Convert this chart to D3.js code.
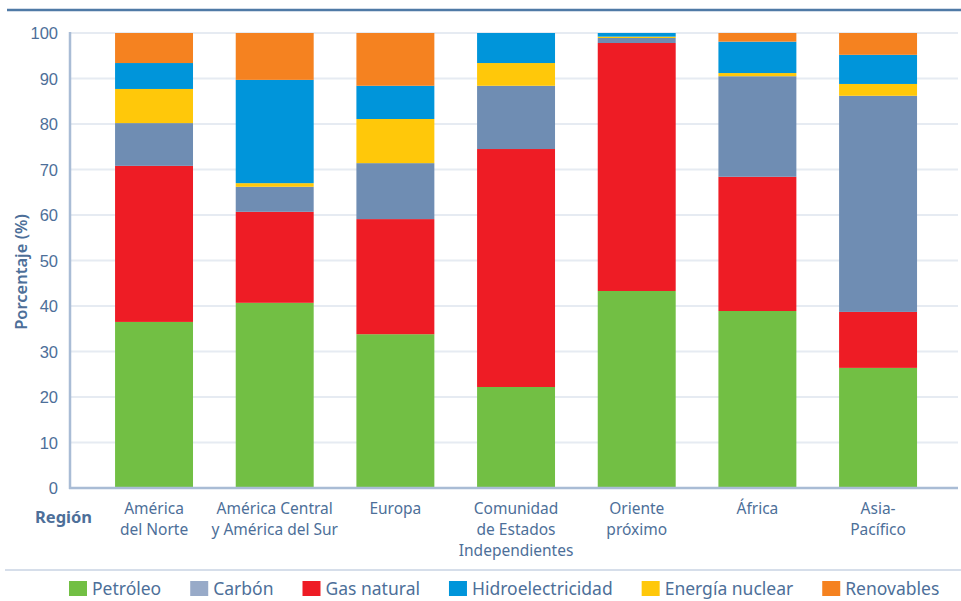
<!DOCTYPE html>
<html lang="es">
<head>
<meta charset="utf-8">
<title>Consumo de energía por región</title>
<script src="https://d3js.org/d3.v7.min.js"></script>
<style>
  body { margin: 0; background: #fff; }
  svg { display: block; font-family: "Noto Sans", "Open Sans", sans-serif; }
  .tick text { fill: #4d6f99; }
</style>
</head>
<body>
<svg id="chart" width="961" height="601"></svg>
<script>
// regiones (eje x), cada una en líneas
var regions = [
  ["América", "del Norte"],
  ["América Central", "y América del Sur"],
  ["Europa"],
  ["Comunidad", "de Estados", "Independientes"],
  ["Oriente", "próximo"],
  ["África"],
  ["Asia-", "Pacífico"]
];
var regionKeys = ["AN", "ACS", "EU", "CEI", "OP", "AF", "AP"];

// fuentes en orden de apilado (de abajo arriba)
var sources = ["Petróleo", "Gas natural", "Carbón", "Energía nuclear", "Hidroelectricidad", "Renovables"];
// orden de la leyenda
var legendOrder = ["Petróleo", "Carbón", "Gas natural", "Hidroelectricidad", "Energía nuclear", "Renovables"];

// porcentajes, por región
var petroleo   = [36.5, 40.7, 33.8, 22.2, 43.3, 38.9, 26.4];
var gasNatural = [34.3, 20.0, 25.3, 52.3, 54.5, 29.5, 12.3];
var carbon     = [ 9.4,  5.5, 12.3, 13.9,  1.1, 22.1, 47.5];
var nuclear    = [ 7.5,  0.8,  9.7,  5.0,  0.3,  0.7,  2.6];
var hidro      = [ 5.7, 22.7,  7.3,  6.6,  0.8,  6.9,  6.4];
var renovables = [ 6.6, 10.3, 11.6,  0.0,  0.0,  1.9,  4.8];

var yTicks = [0, 10, 20, 30, 40, 50, 60, 70, 80, 90, 100];

var colors = {
  "Petróleo": "#72bf44",
  "Gas natural": "#ee1c25",
  "Carbón": "#6f8db3",
  "Energía nuclear": "#ffc80a",
  "Hidroelectricidad": "#0095da",
  "Renovables": "#f58220"
};
var legendColors = Object.assign({}, colors, {"Carbón": "#98aac8"});

var series = {
  "Petróleo": petroleo, "Gas natural": gasNatural, "Carbón": carbon,
  "Energía nuclear": nuclear, "Hidroelectricidad": hidro, "Renovables": renovables
};

var table = regionKeys.map(function(k, i) {
  var row = {key: k, i: i};
  sources.forEach(function(s) { row[s] = series[s][i]; });
  return row;
});

var svg = d3.select("#chart");
var textColor = "#4d6f99";

// scales
var x = d3.scaleBand().domain(regionKeys).range([93.7, 938.4])
    .paddingInner(0.354).paddingOuter(0.177);
var y = d3.scaleLinear().domain([0, 100]).range([488, 33]);

// top rule and bottom rule
svg.append("line").attr("x1", 7).attr("x2", 961).attr("y1", 10).attr("y2", 10)
    .attr("stroke", "#4f7aa6").attr("stroke-width", 2.5);
svg.append("line").attr("x1", 5).attr("x2", 961).attr("y1", 570).attr("y2", 570)
    .attr("stroke", "#d6deea").attr("stroke-width", 2);

// gridlines
svg.append("g").selectAll("line").data(yTicks.slice(1)).enter().append("line")
    .attr("x1", 70).attr("x2", 958)
    .attr("y1", function(d) { return y(d); }).attr("y2", function(d) { return y(d); })
    .attr("stroke", "#e6ebf2").attr("stroke-width", 2);

// stacked bars
var stack = d3.stack().keys(sources);
var layers = stack(table);

svg.append("g").selectAll("g").data(layers).enter().append("g")
    .attr("fill", function(d) { return colors[d.key]; })
  .selectAll("rect").data(function(d) { return d; }).enter().append("rect")
    .attr("x", function(d) { return x(d.data.key); })
    .attr("width", x.bandwidth())
    .attr("y", function(d) { return y(d[1]); })
    .attr("height", function(d) { return y(d[0]) - y(d[1]); });

// y axis
var yAxis = svg.append("g").attr("transform", "translate(70,0)")
    .call(d3.axisLeft(y).tickValues(yTicks).tickSize(0).tickPadding(12));
yAxis.select(".domain").remove();
yAxis.selectAll("text").attr("font-size", 16.5).attr("dy", "0.34em");

svg.append("line").attr("x1", 70).attr("x2", 70).attr("y1", 32).attr("y2", 489)
    .attr("stroke", "#a9bcd5").attr("stroke-width", 2.5);
svg.append("line").attr("x1", 69).attr("x2", 958).attr("y1", 488).attr("y2", 488)
    .attr("stroke", "#a9bcd5").attr("stroke-width", 2.5);

// x labels
var xl = svg.append("g").selectAll("text").data(regions).enter().append("text")
    .attr("text-anchor", "middle")
    .attr("font-size", 15.5)
    .attr("fill", textColor)
    .attr("transform", function(d, i) { return "translate(" + (x(regionKeys[i]) + x.bandwidth() / 2) + ",514)"; });
xl.selectAll("tspan").data(function(d) { return d; }).enter().append("tspan")
    .attr("x", 0).attr("y", function(d, j) { return j * 21; })
    .text(function(d) { return d; });

// axis titles
svg.append("text").attr("x", 35).attr("y", 523)
    .attr("font-size", 16.5).attr("font-weight", "bold").attr("fill", textColor)
    .text("Región");
svg.append("text").attr("transform", "translate(27,272) rotate(-90)")
    .attr("text-anchor", "middle").attr("font-size", 16.5).attr("font-weight", 600)
    .attr("fill", textColor).text("Porcentaje (%)");

// legend
var lx = 69;
var legend = svg.append("g");
legendOrder.forEach(function(s) {
  legend.append("rect").attr("x", lx).attr("y", 581).attr("width", 18).attr("height", 15)
      .attr("fill", legendColors[s]);
  var t = legend.append("text").attr("x", lx + 23).attr("y", 595)
      .attr("font-size", 17.5).attr("fill", textColor).text(s);
  lx += 23 + t.node().getComputedTextLength() + 29;
});
</script>
</body>
</html>
